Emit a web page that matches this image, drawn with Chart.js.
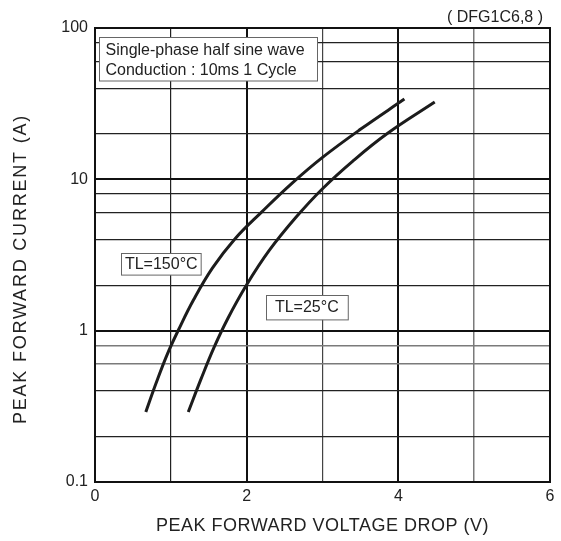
<!DOCTYPE html>
<html>
<head>
<meta charset="utf-8">
<script src="https://cdn.jsdelivr.net/npm/chart.js@4/dist/chart.umd.min.js"></script>
<style>
  html, body { margin: 0; padding: 0; background: #fff; }
  #wrap { width: 561px; height: 541px; position: relative; }
</style>
</head>
<body>
<div id="wrap"><canvas id="c"></canvas></div>
<script>
// ---- data ----
const chartTitle = '( DFG1C6,8 )';
const xAxisTitle = 'PEAK FORWARD VOLTAGE DROP (V)';
const yAxisTitle = 'PEAK FORWARD CURRENT (A)';

const seriesNames = ['TL=150°C', 'TL=25°C'];

const voltage150 = [0.67, 0.80, 0.95, 1.10, 1.30, 1.55, 1.85, 2.20, 2.60, 3.00, 3.50, 4.08];
const current150 = [0.29, 0.442, 0.692, 1.01, 1.60, 2.60, 4.07, 6.10, 9.44, 13.96, 21.4, 33.9];

const voltage25 = [1.23, 1.40, 1.57, 1.75, 2.00, 2.30, 2.65, 3.00, 3.40, 3.85, 4.48];
const current25 = [0.29, 0.482, 0.776, 1.20, 2.01, 3.40, 5.61, 8.67, 13.2, 20.0, 32.4];

const xTickValues = [0, 1, 2, 3, 4, 5, 6];
const xTickLabels = ['0', '', '2', '', '4', '', '6'];
const yTickValues = [0.1, 0.2, 0.4, 0.6, 0.8, 1, 2, 4, 6, 8, 10, 20, 40, 60, 80, 100];
const yLabelledValues = [0.1, 1, 10, 100];
const yLabelTexts = ['0.1', '1', '10', '100'];

const noteLines = ['Single-phase half sine wave', 'Conduction : 10ms 1 Cycle'];
// label anchor positions in data space (x in V, y in A)
const seriesLabelX = [0.874, 2.793];
const seriesLabelY = [2.757, 1.431];

// ---- styling ----
const FONT = '"Liberation Sans", Arial, Helvetica, sans-serif';
const TXT = '#222';
const CURVE = '#1c1c1c';

function toPoints(xs, ys) { return xs.map((x, i) => ({ x: x, y: ys[i] })); }

function xGridStyle(v) {
  if (v === 0 || v === 6) return ['rgba(0,0,0,0)', 1];
  if (v === 2 || v === 4) return ['#111', 2];
  if (v === 5) return ['#7a7a7a', 1.5];
  if (v === 3) return ['#444', 1.2];
  return ['#222', 1.2];
}
function yGridStyle(v) {
  const r = Math.round(v * 1000) / 1000;
  if (r === 0.1 || r === 100) return ['rgba(0,0,0,0)', 1];
  if (r === 1 || r === 10) return ['#111', 2];
  if (r === 0.8 || r === 0.6) return ['#7a7a7a', 1.5];
  return ['#222', 1.2];
}

const decor = {
  id: 'decor',
  afterLayout(chart) {
    const sp = { x: { ls: '0.5px', dx: 0, dy: 0 }, y: { ls: '1.8px', dx: 0, dy: 14 } };
    for (const id of Object.keys(chart.scales)) {
      const s = chart.scales[id];
      if (s.__wrapped) continue;
      const orig = s.drawTitle.bind(s);
      const cfg = sp[id];
      s.drawTitle = function () {
        const ctx = this.ctx;
        ctx.save();
        ctx.letterSpacing = cfg.ls;
        ctx.translate(cfg.dx, cfg.dy);
        orig();
        ctx.restore();
      };
      s.__wrapped = true;
    }
    const tb = chart.titleBlock;
    if (tb && !tb.__wrapped) {
      const o = tb.draw.bind(tb);
      tb.draw = function () {
        const ctx = chart.ctx;
        ctx.save();
        ctx.translate(-7, 0);
        o();
        ctx.restore();
      };
      tb.__wrapped = true;
    }
  },
  beforeDatasetsDraw(chart) {
    const { ctx, chartArea: a } = chart;
    ctx.save();
    ctx.strokeStyle = '#111';
    ctx.lineWidth = 2;
    ctx.strokeRect(a.left, a.top, a.right - a.left, a.bottom - a.top);
    ctx.restore();
  },
  afterDatasetsDraw(chart) {
    const { ctx, chartArea: a, scales } = chart;
    ctx.save();
    ctx.font = '16px ' + FONT;
    ctx.textBaseline = 'middle';
    // note box
    const bx = a.left + 4.5, by = a.top + 9.5, bw = 218, bh = 43.5;
    ctx.fillStyle = '#fff';
    ctx.fillRect(bx, by, bw, bh);
    ctx.strokeStyle = '#666';
    ctx.lineWidth = 1;
    ctx.strokeRect(bx, by, bw, bh);
    ctx.fillStyle = TXT;
    ctx.textAlign = 'left';
    ctx.fillText(noteLines[0], bx + 6, by + 13.5);
    ctx.fillText(noteLines[1], bx + 6, by + 33.5);
    // series labels
    const pads = [[3.5, 21.6], [9, 24.4]];
    seriesNames.forEach((name, i) => {
      const cx = scales.x.getPixelForValue(seriesLabelX[i]);
      const cy = scales.y.getPixelForValue(seriesLabelY[i]);
      const w = ctx.measureText(name).width + pads[i][0] * 2;
      const h = pads[i][1];
      const x0 = Math.round(cx - w / 2) + 0.5, y0 = Math.round(cy - h / 2) + 0.5;
      ctx.fillStyle = '#fff';
      ctx.fillRect(x0, y0, w, h);
      ctx.strokeStyle = '#666';
      ctx.strokeRect(x0, y0, w, h);
      ctx.fillStyle = TXT;
      ctx.textAlign = 'center';
      ctx.fillText(name, cx, cy + 0.5);
    });
    ctx.restore();
  }
};

new Chart(document.getElementById('c'), {
  type: 'line',
  data: {
    datasets: [
      { label: seriesNames[0], data: toPoints(voltage150, current150) },
      { label: seriesNames[1], data: toPoints(voltage25, current25) }
    ]
  },
  options: {
    responsive: true,
    maintainAspectRatio: false,
    animation: false,
    devicePixelRatio: 1,
    layout: { padding: { left: 0, right: 11, top: 0, bottom: 0 } },
    elements: {
      point: { radius: 0, hoverRadius: 0 },
      line: { borderColor: CURVE, borderWidth: 3, tension: 0.4, cubicInterpolationMode: 'default', fill: false, borderCapStyle: 'butt' }
    },
    plugins: {
      legend: { display: false },
      tooltip: { enabled: false },
      title: {
        display: true,
        text: chartTitle,
        align: 'end',
        color: TXT,
        font: { family: FONT, size: 16, weight: 'normal', lineHeight: 1.2 },
        padding: { top: 8, bottom: 0.8 }
      }
    },
    scales: {
      x: {
        type: 'linear',
        min: 0, max: 6,
        afterBuildTicks(s) { s.ticks = xTickValues.map(v => ({ value: v })); },
        afterFit(s) { s.height = 59; },
        border: { display: false },
        grid: {
          drawTicks: false,
          color: c => xGridStyle(c.tick.value)[0],
          lineWidth: c => xGridStyle(c.tick.value)[1]
        },
        ticks: {
          autoSkip: false,
          maxRotation: 0,
          padding: 5,
          color: TXT,
          font: { family: FONT, size: 16 },
          callback: (v) => { const i = xTickValues.indexOf(v); return i >= 0 ? xTickLabels[i] : ''; }
        },
        title: {
          display: true,
          text: xAxisTitle,
          color: TXT,
          font: { family: FONT, size: 18, lineHeight: 1.2 },
          padding: { top: 0, bottom: 4.5 }
        }
      },
      y: {
        type: 'logarithmic',
        min: 0.1, max: 100,
        afterBuildTicks(s) { s.ticks = yTickValues.map(v => ({ value: v })); },
        afterFit(s) { s.width = 95; },
        border: { display: false },
        grid: {
          drawTicks: false,
          color: c => yGridStyle(c.tick.value)[0],
          lineWidth: c => yGridStyle(c.tick.value)[1]
        },
        ticks: {
          autoSkip: false,
          padding: 7,
          color: TXT,
          font: { family: FONT, size: 16 },
          callback: (v) => {
            const i = yLabelledValues.findIndex(t => Math.abs(t - v) < 1e-9);
            return i >= 0 ? yLabelTexts[i] : '';
          }
        },
        title: {
          display: true,
          text: yAxisTitle,
          color: TXT,
          font: { family: FONT, size: 18, lineHeight: 1.2 },
          padding: { top: 10, bottom: 0 }
        }
      }
    }
  },
  plugins: [decor]
});
</script>
</body>
</html>
